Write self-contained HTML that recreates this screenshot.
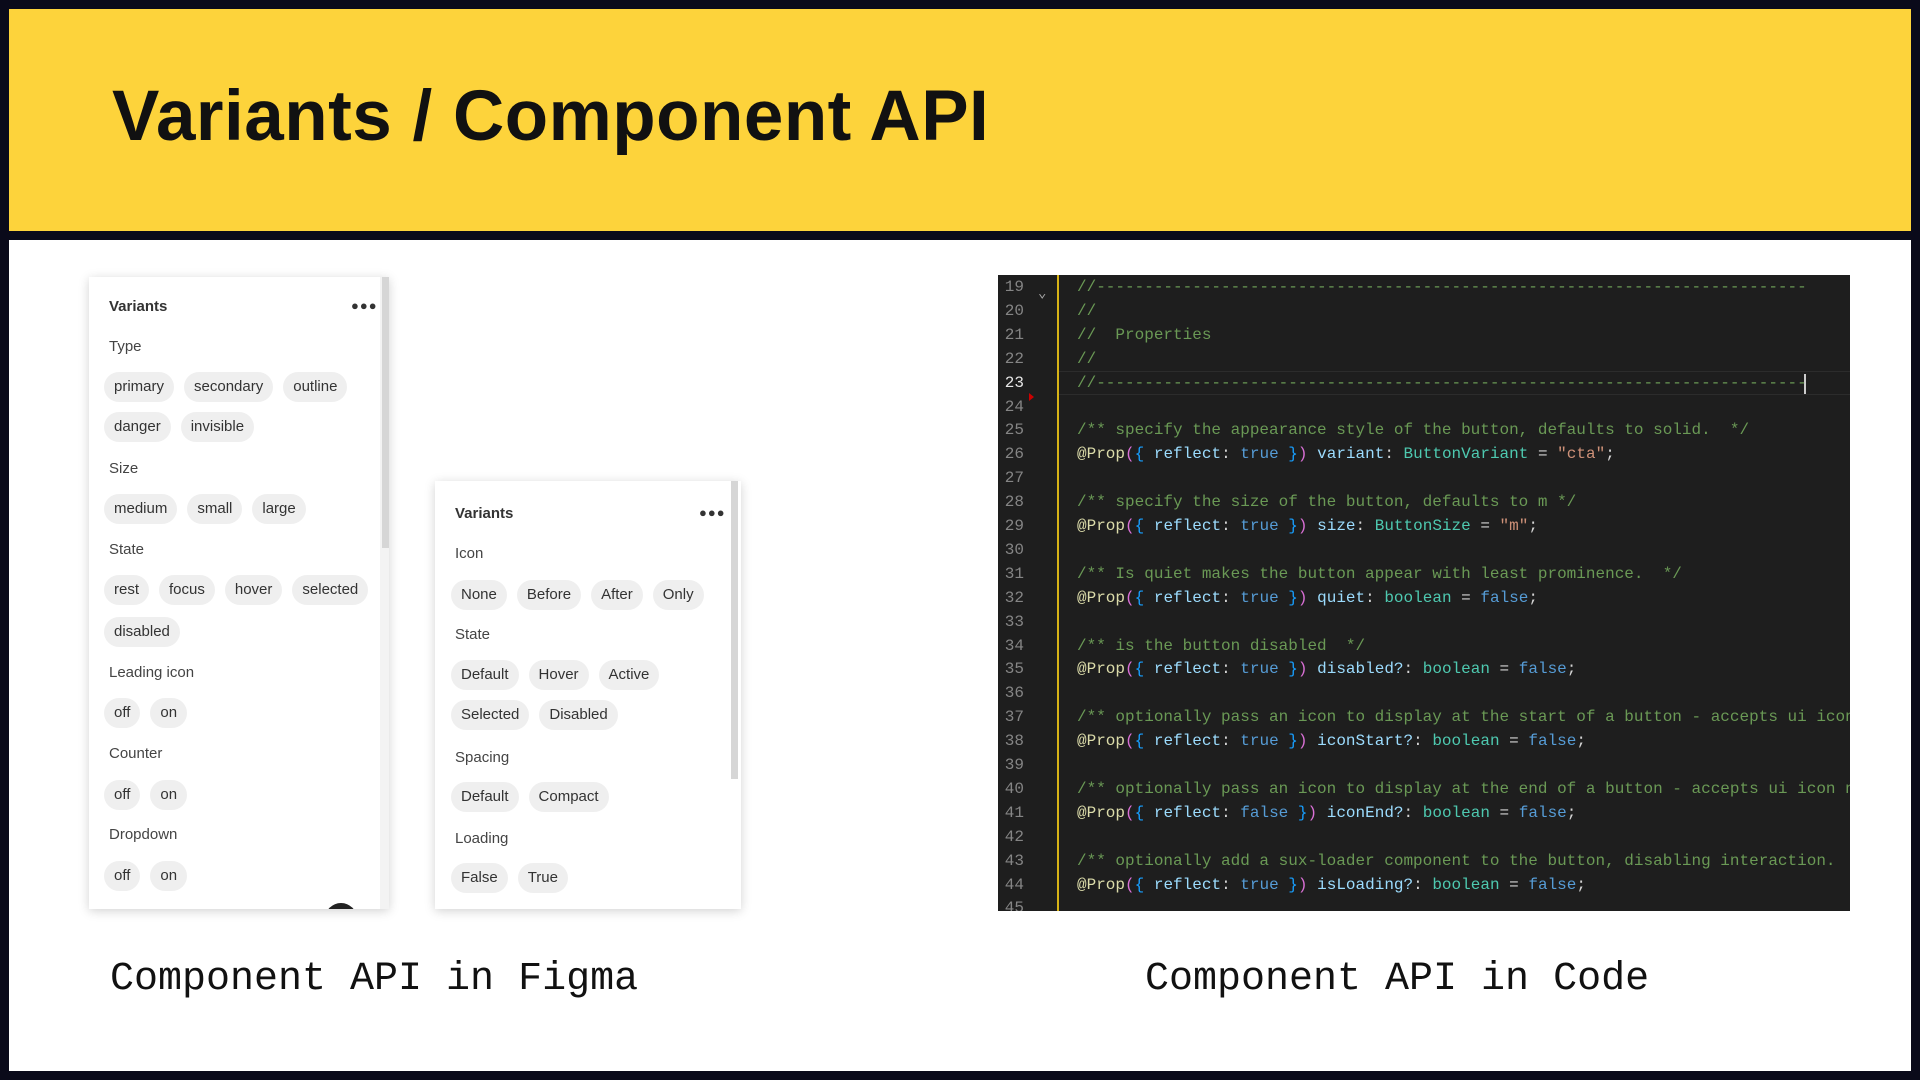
<!DOCTYPE html>
<html><head><meta charset="utf-8">
<style>
*{margin:0;padding:0;box-sizing:border-box}
body{width:1920px;height:1080px;background:#0a0a1a;position:relative;overflow:hidden;font-family:"Liberation Sans",sans-serif}
#yel{position:absolute;left:9px;top:9px;width:1902px;height:222px;background:#fdd33b}
#title{position:absolute;left:112px;top:76px;font-size:71px;font-weight:bold;color:#111;letter-spacing:0.5px;white-space:nowrap}
#wht{position:absolute;left:9px;top:240px;width:1902px;height:831px;background:#fff}
.panel{position:absolute;background:#fff;box-shadow:0 2px 10px rgba(0,0,0,0.18);overflow:hidden}
.hd{position:absolute;font-size:15px;font-weight:bold;color:#333}
.dots{position:absolute;font-size:13px;color:#333;letter-spacing:1px}
.lb{position:absolute;font-size:15px;color:#444;white-space:nowrap}
.row{position:absolute;display:flex;gap:10px;white-space:nowrap}
.c{height:30px;line-height:30px;padding:0 10px;border-radius:15px;background:#efefef;font-size:15px;color:#333}
.sb{position:absolute;background:#d6d6d6;width:7px}
#code{position:absolute;left:998px;top:275px;width:852px;height:636px;background:#1e1e1e;overflow:hidden;font-family:"Liberation Mono",monospace;font-size:16px}
.ln{position:absolute;left:0;width:26px;text-align:right;color:#858585;font-size:16px}
.tx{position:absolute;left:79px;white-space:pre;color:#d4d4d4}
.cm{color:#6a9955}.fn{color:#dcdcaa}.pa{color:#da70d6}.br{color:#179fff}.pr{color:#9cdcfe}.kw{color:#569cd6}.ty{color:#4ec9b0}.st{color:#ce9178}
.cap{position:absolute;top:957px;font-family:"Liberation Mono",monospace;font-size:40px;color:#111;white-space:nowrap}
</style></head><body>
<div id="yel"></div>
<div id="title">Variants / Component API</div>
<div id="wht"></div>

<div class="panel" style="left:89px;top:277px;width:300px;height:632px">
  <div style="position:absolute;left:291px;top:0;width:9px;height:632px;background:#f3f3f3"></div>
  <div class="sb" style="left:293px;top:0;height:271px"></div>
  <div class="hd" style="left:20px;top:21px">Variants</div>
  <div class="dots" style="left:262px;top:21px">●●●</div>
  <div class="lb" style="left:20px;top:61px">Type</div>
  <div class="row" style="left:15px;top:95px"><span class="c">primary</span><span class="c">secondary</span><span class="c">outline</span></div>
  <div class="row" style="left:15px;top:135px"><span class="c">danger</span><span class="c">invisible</span></div>
  <div class="lb" style="left:20px;top:183px">Size</div>
  <div class="row" style="left:15px;top:217px"><span class="c">medium</span><span class="c">small</span><span class="c">large</span></div>
  <div class="lb" style="left:20px;top:264px">State</div>
  <div class="row" style="left:15px;top:298px"><span class="c">rest</span><span class="c">focus</span><span class="c">hover</span><span class="c">selected</span></div>
  <div class="row" style="left:15px;top:340px"><span class="c">disabled</span></div>
  <div class="lb" style="left:20px;top:387px">Leading icon</div>
  <div class="row" style="left:15px;top:421px"><span class="c">off</span><span class="c">on</span></div>
  <div class="lb" style="left:20px;top:468px">Counter</div>
  <div class="row" style="left:15px;top:503px"><span class="c">off</span><span class="c">on</span></div>
  <div class="lb" style="left:20px;top:549px">Dropdown</div>
  <div class="row" style="left:15px;top:584px"><span class="c">off</span><span class="c">on</span></div>
  <div style="position:absolute;left:236px;top:626px;width:32px;height:32px;border-radius:50%;background:#222"></div>
</div>

<div class="panel" style="left:435px;top:481px;width:306px;height:428px">
  <div class="sb" style="left:296px;top:0;height:298px"></div>
  <div class="hd" style="left:20px;top:24px">Variants</div>
  <div class="dots" style="left:264px;top:24px">●●●</div>
  <div class="lb" style="left:20px;top:64px">Icon</div>
  <div class="row" style="left:16px;top:99px"><span class="c">None</span><span class="c">Before</span><span class="c">After</span><span class="c">Only</span></div>
  <div class="lb" style="left:20px;top:145px">State</div>
  <div class="row" style="left:16px;top:179px"><span class="c">Default</span><span class="c">Hover</span><span class="c">Active</span></div>
  <div class="row" style="left:16px;top:219px"><span class="c">Selected</span><span class="c">Disabled</span></div>
  <div class="lb" style="left:20px;top:268px">Spacing</div>
  <div class="row" style="left:16px;top:301px"><span class="c">Default</span><span class="c">Compact</span></div>
  <div class="lb" style="left:20px;top:349px">Loading</div>
  <div class="row" style="left:16px;top:382px"><span class="c">False</span><span class="c">True</span></div>
</div>

<div id="code">
  <div style="position:absolute;left:59px;top:0;width:2px;height:636px;background:#d7b316"></div>
  <div style="position:absolute;left:61px;top:96px;width:791px;height:24px;border-top:1px solid #2c2c2c;border-bottom:1px solid #2c2c2c"></div>
  <div style="position:absolute;left:40px;top:10px;color:#aaa;font-size:14px">&#8964;</div>
  <div style="position:absolute;left:31px;top:118px;width:0;height:0;border-left:5px solid #c00;border-top:4px solid transparent;border-bottom:4px solid transparent"></div>
  <div style="position:absolute;left:806px;top:99px;width:2px;height:20px;background:#ccc"></div>
  <div id="lines"></div>
</div>

<div class="cap" style="left:110px">Component API in Figma</div>
<div class="cap" style="left:1145px">Component API in Code</div>

<script>
var L={
19:'<span class="cm">//'+'-'.repeat(74)+'</span>',
20:'<span class="cm">//</span>',
21:'<span class="cm">//  Properties</span>',
22:'<span class="cm">//</span>',
23:'<span class="cm">//'+'-'.repeat(74)+'</span>',
25:'<span class="cm">/** specify the appearance style of the button, defaults to solid.  */</span>',
26:'<span class="fn">@Prop</span><span class="pa">(</span><span class="br">{</span> <span class="pr">reflect</span>: <span class="kw">true</span> <span class="br">}</span><span class="pa">)</span> <span class="pr">variant</span>: <span class="ty">ButtonVariant</span> = <span class="st">"cta"</span>;',
28:'<span class="cm">/** specify the size of the button, defaults to m */</span>',
29:'<span class="fn">@Prop</span><span class="pa">(</span><span class="br">{</span> <span class="pr">reflect</span>: <span class="kw">true</span> <span class="br">}</span><span class="pa">)</span> <span class="pr">size</span>: <span class="ty">ButtonSize</span> = <span class="st">"m"</span>;',
31:'<span class="cm">/** Is quiet makes the button appear with least prominence.  */</span>',
32:'<span class="fn">@Prop</span><span class="pa">(</span><span class="br">{</span> <span class="pr">reflect</span>: <span class="kw">true</span> <span class="br">}</span><span class="pa">)</span> <span class="pr">quiet</span>: <span class="ty">boolean</span> = <span class="kw">false</span>;',
34:'<span class="cm">/** is the button disabled  */</span>',
35:'<span class="fn">@Prop</span><span class="pa">(</span><span class="br">{</span> <span class="pr">reflect</span>: <span class="kw">true</span> <span class="br">}</span><span class="pa">)</span> <span class="pr">disabled?</span>: <span class="ty">boolean</span> = <span class="kw">false</span>;',
37:'<span class="cm">/** optionally pass an icon to display at the start of a button - accepts ui icon names */</span>',
38:'<span class="fn">@Prop</span><span class="pa">(</span><span class="br">{</span> <span class="pr">reflect</span>: <span class="kw">true</span> <span class="br">}</span><span class="pa">)</span> <span class="pr">iconStart?</span>: <span class="ty">boolean</span> = <span class="kw">false</span>;',
40:'<span class="cm">/** optionally pass an icon to display at the end of a button - accepts ui icon names */</span>',
41:'<span class="fn">@Prop</span><span class="pa">(</span><span class="br">{</span> <span class="pr">reflect</span>: <span class="kw">false</span> <span class="br">}</span><span class="pa">)</span> <span class="pr">iconEnd?</span>: <span class="ty">boolean</span> = <span class="kw">false</span>;',
43:'<span class="cm">/** optionally add a sux-loader component to the button, disabling interaction.  */</span>',
44:'<span class="fn">@Prop</span><span class="pa">(</span><span class="br">{</span> <span class="pr">reflect</span>: <span class="kw">true</span> <span class="br">}</span><span class="pa">)</span> <span class="pr">isLoading?</span>: <span class="ty">boolean</span> = <span class="kw">false</span>;'
};
var h='';
for(var n=19;n<=45;n++){var t=3+(n-19)*23.9;
h+='<div class="ln" style="top:'+t+'px;'+(n==23?'color:#e6e6e6':'')+'">'+n+'</div>';
if(L[n])h+='<div class="tx" style="top:'+t+'px">'+L[n]+'</div>';}
document.getElementById('lines').innerHTML=h;
</script>
</body></html>
